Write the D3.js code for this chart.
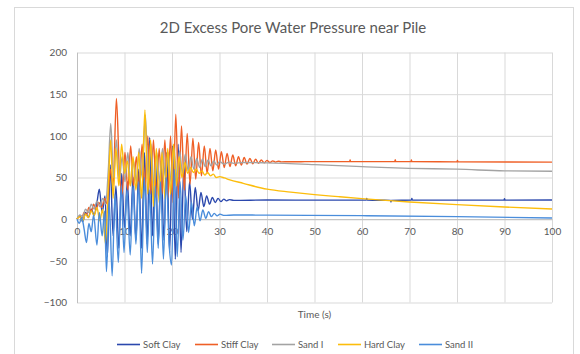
<!DOCTYPE html>
<html>
<head>
<meta charset="utf-8">
<script src="https://cdn.jsdelivr.net/npm/d3@7"></script>
<style>
  html, body { margin: 0; padding: 0; background: #fff; }
  svg { display: block; }
  text { font-family: Lato, "Open Sans", sans-serif; fill: #595959; }
</style>
</head>
<body>
<svg id="chart" width="580" height="354"></svg>
<script>
// Excess pore water pressure (kPa) against time (s), one [time, value] list per layer.
const softClay = [
  [0,0],[0.6,4],[1.2,-3],[1.8,8],[2.4,2],[3.0,12],[3.6,5],[4.2,20],[4.7,36],[5.3,8],[5.9,28],
  [6.4,-45],[7.0,65],[7.6,-20],[8.2,40],[8.8,-35],[9.4,55],[10.0,-10],[10.6,45],[11.2,-20],
  [11.8,50],[12.4,-25],[13.0,60],[13.6,-35],[14.2,80],[14.8,-30],[15.3,98],[15.9,-20],[16.5,75],
  [17.1,-30],[17.7,70],[18.3,-25],[18.9,80],[19.5,-40],[20.1,88],[20.7,-48],[21.3,90],[21.9,-40],
  [22.5,65],[23.1,-15],[23.7,45],[24.3,0],[24.9,38],[25.5,10],[26.1,32],[26.7,15],[27.3,28],
  [27.9,18],[28.5,26],[29.1,20],[29.7,25],[30.3,21],[30.9,24],[31.5,22],[32.1,23.5],[33,22.5],
  [40,23],[52,22.8],[60.9,22.8],[61,25],[61.1,22.8],[66,22.6],[66.1,20.5],[66.2,22.6],
  [70.4,22.8],[70.5,25],[70.6,22.8],[89.9,22.8],[90,24.5],[90.1,22.8],[100,23]
];
const stiffClay = [
  [0,0],[0.5,3],[1.0,1],[1.5,8],[2.0,5],[2.5,14],[3.0,9],[3.5,18],[4.0,12],[4.6,20],[5.2,14],
  [5.8,25],[6.4,18],[7.0,60],[7.6,40],[8.3,145],[8.9,60],[9.5,30],[10.1,80],[10.7,35],[11.3,88],
  [11.9,40],[12.5,75],[13.1,30],[13.7,90],[14.3,35],[14.9,100],[15.5,30],[16.1,95],[16.7,25],
  [17.3,85],[17.9,30],[18.5,95],[19.1,25],[19.7,100],[20.2,20],[20.8,126],[21.4,25],[22.0,112],
  [22.6,35],[23.2,103],[23.8,42],[24.4,97],[25.0,48],[25.6,92],[26.2,52],[26.8,88],[27.4,55],
  [28.0,85],[28.6,58],[29.2,83],[29.8,60],[30.4,81],[31.0,62],[31.6,79],[32.2,63],[32.8,77],
  [33.4,64],[34.0,75],[34.6,65],[35.2,74],[35.8,66],[36.4,73],[37.0,66.5],[37.6,72],[38.2,67],
  [38.8,71],[39.4,67.5],[40.0,70.5],[40.6,68],[41.2,70],[41.8,68.5],[42.4,69.5],[43,68.8],
  [48,69],[57.4,69],[57.5,71],[57.6,69],[66.9,69],[67,71.5],[67.1,69],[70.3,69],[70.4,71],
  [70.5,69],[80,68.8],[80.1,70.5],[80.2,68.8],[100,68.5]
];
const sandI = [
  [0,0],[0.6,5],[1.2,3],[1.8,12],[2.4,8],[3.0,18],[3.6,12],[4.2,22],[4.8,15],[5.4,25],[6.0,18],
  [6.6,60],[7.1,115],[7.7,50],[8.3,95],[8.9,45],[9.5,75],[10.1,45],[10.7,80],[11.3,40],[11.9,70],
  [12.5,45],[13.1,85],[13.7,50],[14.4,125],[15.0,45],[15.6,90],[16.2,40],[16.8,80],[17.4,45],
  [18.0,85],[18.6,50],[19.2,80],[19.8,45],[20.4,85],[21.0,50],[21.6,82],[22.2,55],[22.8,78],
  [23.4,58],[24.0,75],[24.6,60],[25.2,73],[25.8,62],[26.4,72],[27.0,63],[27.6,71],[28.2,64],
  [28.8,70],[29.4,65],[30,69],[31,66],[32,68.5],[33,67],[35,68],[40,67.5],[50,65.5],[60,63],
  [70,61],[80,60],[90,58],[100,57.5]
];
const hardClay = [
  [0,0],[0.6,3],[1.2,-2],[1.8,6],[2.4,2],[3.0,10],[3.6,4],[4.2,14],[4.8,-2],[5.4,12],[6.0,-30],
  [6.6,40],[7.1,95],[7.6,25],[8.2,85],[8.8,40],[9.4,90],[10.0,55],[10.6,70],[11.2,40],[11.8,75],
  [12.4,35],[13.0,80],[13.6,25],[14.3,131],[14.9,30],[15.5,95],[16.1,15],[16.7,85],[17.3,20],
  [17.9,80],[18.5,25],[19.1,85],[19.7,30],[20.3,90],[20.9,40],[21.5,75],[22.1,50],[22.7,68],
  [23.3,55],[23.9,62],[24.5,56],[25.1,60],[25.7,55],[26.3,58],[26.9,53],[27.5,56],[28.1,52],
  [28.7,54],[29.3,50],[30,51],[31,49.5],[32,47.5],[35,43],[40,36],[45,32.5],[50,29.5],[55,27],
  [60,24.6],[65,22.5],[70,20.6],[80,17.4],[90,14.6],[100,12.2]
];
const sandII = [
  [0,0],[0.5,-5],[1.0,2],[1.5,-12],[2.0,-28],[2.5,-5],[3.0,-15],[3.5,5],[4.2,-31],[4.7,8],
  [5.3,-20],[5.8,10],[6.2,-63],[6.8,20],[7.4,-68],[8.0,30],[8.7,-52],[9.3,40],[9.9,-40],
  [10.5,35],[11.2,-43],[11.8,40],[12.4,-30],[13.0,45],[13.6,-65],[14.2,50],[14.8,-40],[15.3,35],
  [15.9,-54],[16.5,40],[17.1,-35],[17.6,45],[18.2,-48],[18.8,50],[19.4,-30],[19.9,-55],[20.5,60],
  [21.1,-45],[21.7,45],[22.3,-25],[22.9,28],[23.5,-16],[24.1,20],[24.7,-8],[25.3,15],[25.9,-2],
  [26.5,11],[27.1,1],[27.7,9],[28.3,3],[28.9,7],[29.5,4],[30.1,6],[31,4.5],[33,5],[40,4.8],
  [60,4.2],[80,3],[100,1.4]
];
const seriesNames = ["Soft Clay", "Stiff Clay", "Sand I", "Hard Clay", "Sand II"];
const seriesData = [softClay, stiffClay, sandI, hardClay, sandII];
const seriesColors = ["#2b48ad", "#ef5f26", "#a3a3a3", "#fcbd0c", "#4a8ddb"];
const xTicks = [0, 10, 20, 30, 40, 50, 60, 70, 80, 90, 100];
const yTicks = [-100, -50, 0, 50, 100, 150, 200];

const svg = d3.select("#chart");
const W = 580, H = 354;
const plot = { left: 77, right: 552, top: 52.5, bottom: 302.5 };

svg.append("rect").attr("width", W).attr("height", H).attr("fill", "#fff");
// chart frame
svg.append("rect").attr("x", 14.5).attr("y", 7.5).attr("width", 559).attr("height", 380)
  .attr("fill", "none").attr("stroke", "#d9d9d9");

svg.append("text").attr("x", 293).attr("y", 33).attr("text-anchor", "middle")
  .style("font-size", "15px").text("2D Excess Pore Water Pressure near Pile");

const x = d3.scaleLinear().domain([0, 100]).range([plot.left, plot.right]);
const y = d3.scaleLinear().domain([-100, 200]).range([plot.bottom, plot.top]);

// gridlines
svg.append("g").attr("transform", `translate(${plot.left},0)`)
  .call(d3.axisLeft(y).tickValues(yTicks).tickSize(-(plot.right - plot.left)).tickFormat(""))
  .call(g => g.select(".domain").remove())
  .call(g => g.selectAll("line").attr("stroke", "#d9d9d9"));
svg.append("g").attr("transform", `translate(0,${plot.bottom})`)
  .call(d3.axisBottom(x).tickValues(xTicks).tickSize(-(plot.bottom - plot.top)).tickFormat(""))
  .call(g => g.select(".domain").remove())
  .call(g => g.selectAll("line").attr("stroke", "#d9d9d9"));

// value axis with labels
svg.append("g").attr("transform", `translate(${plot.left},0)`)
  .call(d3.axisLeft(y).tickValues(yTicks).tickSize(0).tickPadding(10))
  .call(g => g.select(".domain").attr("stroke", "#bfbfbf"))
  .call(g => g.selectAll("text").style("font-size", "10px").attr("fill", "#595959")
    .style("font-family", "Lato, sans-serif"));

// time axis drawn through zero
svg.append("g").attr("transform", `translate(0,${y(0)})`)
  .call(d3.axisBottom(x).tickValues(xTicks).tickSize(0).tickPadding(9))
  .call(g => g.select(".domain").attr("stroke", "#bfbfbf"))
  .call(g => g.selectAll("text").style("font-size", "10px").attr("fill", "#595959")
    .style("font-family", "Lato, sans-serif"));

const line = d3.line().x(d => x(d[0])).y(d => y(d[1])).curve(d3.curveMonotoneX);
const lines = svg.append("g");
seriesData.forEach((data, i) => {
  lines.append("path").datum(data).attr("d", line)
    .attr("fill", "none").attr("stroke", seriesColors[i])
    .attr("stroke-width", 1.4).attr("stroke-linejoin", "round");
});

svg.append("text").attr("x", (plot.left + plot.right) / 2).attr("y", 318)
  .attr("text-anchor", "middle").style("font-size", "10px").text("Time (s)");

// legend
const legendX = [117, 195, 272, 338, 419];
const legend = svg.append("g");
seriesNames.forEach((name, i) => {
  legend.append("line").attr("x1", legendX[i]).attr("x2", legendX[i] + 23)
    .attr("y1", 344.5).attr("y2", 344.5)
    .attr("stroke", seriesColors[i]).attr("stroke-width", 1.6);
  legend.append("text").attr("x", legendX[i] + 26).attr("y", 348)
    .style("font-size", "9.5px").text(name);
});
</script>
</body>
</html>
